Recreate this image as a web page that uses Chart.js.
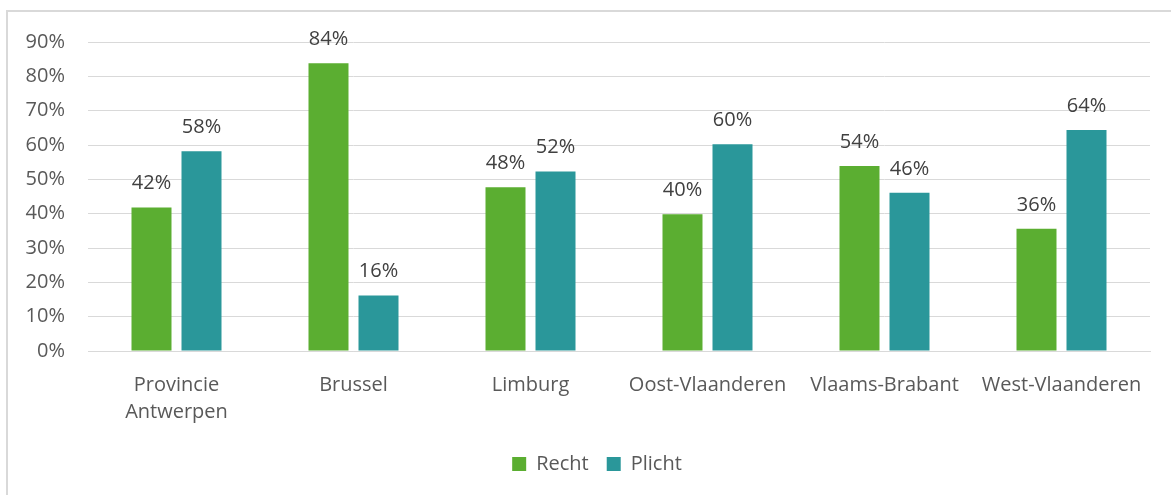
<!DOCTYPE html>
<html lang="nl">
<head>
    <meta charset="UTF-8">
    <title>Recht en Plicht per provincie</title>
    <style>
        body {
            margin: 0;
            padding: 0;
            background-color: #fff;
            font-family: "Open Sans", sans-serif;
        }
        .chart-box {
            position: relative;
            width: 1171px;
            height: 495px;
            overflow: hidden;
        }
        .frame {
            position: absolute;
            left: 6px;
            top: 10px;
            width: 1200px;
            height: 520px;
            border: 2px solid #d9d9d9;
            pointer-events: none;
        }
    </style>
</head>
<body>
    <div class="chart-box">
        <canvas id="provinceChart" width="1171" height="495"></canvas>
        <div class="frame"></div>
    </div>
    <script src="https://cdn.jsdelivr.net/npm/chart.js"></script>
    <script>
        // Categories and values (percent)
        const provinces = [['Provincie', 'Antwerpen'], 'Brussel', 'Limburg', 'Oost-Vlaanderen', 'Vlaams-Brabant', 'West-Vlaanderen'];
        const rechtValues = [41.8, 83.8, 47.7, 39.8, 53.9, 35.6];
        const plichtValues = [58.2, 16.2, 52.3, 60.2, 46.1, 64.4];
        const yTicks = [0, 10, 20, 30, 40, 50, 60, 70, 80, 90];

        const fontFamily = '"Open Sans", sans-serif';

        // Simple value labels above each bar
        const barLabels = {
            id: 'barLabels',
            afterDatasetsDraw(chart) {
                const ctx = chart.ctx;
                ctx.save();
                ctx.font = '20px ' + fontFamily;
                ctx.fillStyle = '#404040';
                ctx.textAlign = 'center';
                ctx.textBaseline = 'alphabetic';
                chart.data.datasets.forEach((ds, i) => {
                    chart.getDatasetMeta(i).data.forEach((bar, j) => {
                        ctx.fillText(Math.round(ds.data[j]) + '%', bar.x, bar.y - 18);
                    });
                });
                ctx.restore();
            }
        };

        // The original legend sits a bit right of the canvas centre
        const legendShift = {
            id: 'legendShift',
            afterLayout(chart) {
                chart.legend.left += 22;
                chart.legend.right += 22;
            }
        };

        const config = {
            type: 'bar',
            data: {
                labels: provinces,
                datasets: [{
                    label: 'Recht',
                    data: rechtValues,
                    backgroundColor: '#5bae31'
                }, {
                    label: 'Plicht',
                    data: plichtValues,
                    backgroundColor: '#2a979a'
                }]
            },
            options: {
                responsive: false,
                animation: false,
                categoryPercentage: 0.565,
                barPercentage: 0.8,
                layout: {
                    padding: { top: 42, right: 21, bottom: 11, left: 0 }
                },
                scales: {
                    x: {
                        afterFit(scale) { scale.height = 85; },
                        grid: { display: false, drawTicks: false },
                        border: { color: '#d9d9d9', width: 1 },
                        ticks: {
                            color: '#595959',
                            padding: 21,
                            maxRotation: 0,
                            autoSkip: false,
                            font: { family: fontFamily, size: 20, lineHeight: 1.35 }
                        }
                    },
                    y: {
                        min: 0,
                        max: 90,
                        afterFit(scale) { scale.width = 88; },
                        afterBuildTicks(scale) { scale.ticks = yTicks.map(v => ({ value: v })); },
                        grid: { color: '#d9d9d9', drawTicks: false },
                        border: { display: false },
                        ticks: {
                            color: '#595959',
                            padding: 23,
                            font: { family: fontFamily, size: 20 },
                            callback: v => v + '%'
                        }
                    }
                },
                plugins: {
                    legend: {
                        position: 'bottom',
                        labels: {
                            color: '#595959',
                            boxWidth: 14,
                            boxHeight: 14,
                            padding: 18,
                            font: { family: fontFamily, size: 20 }
                        }
                    },
                    tooltip: { enabled: false }
                }
            },
            plugins: [barLabels, legendShift]
        };

        const provinceChart = new Chart(document.getElementById('provinceChart'), config);
    </script>
</body>
</html>
